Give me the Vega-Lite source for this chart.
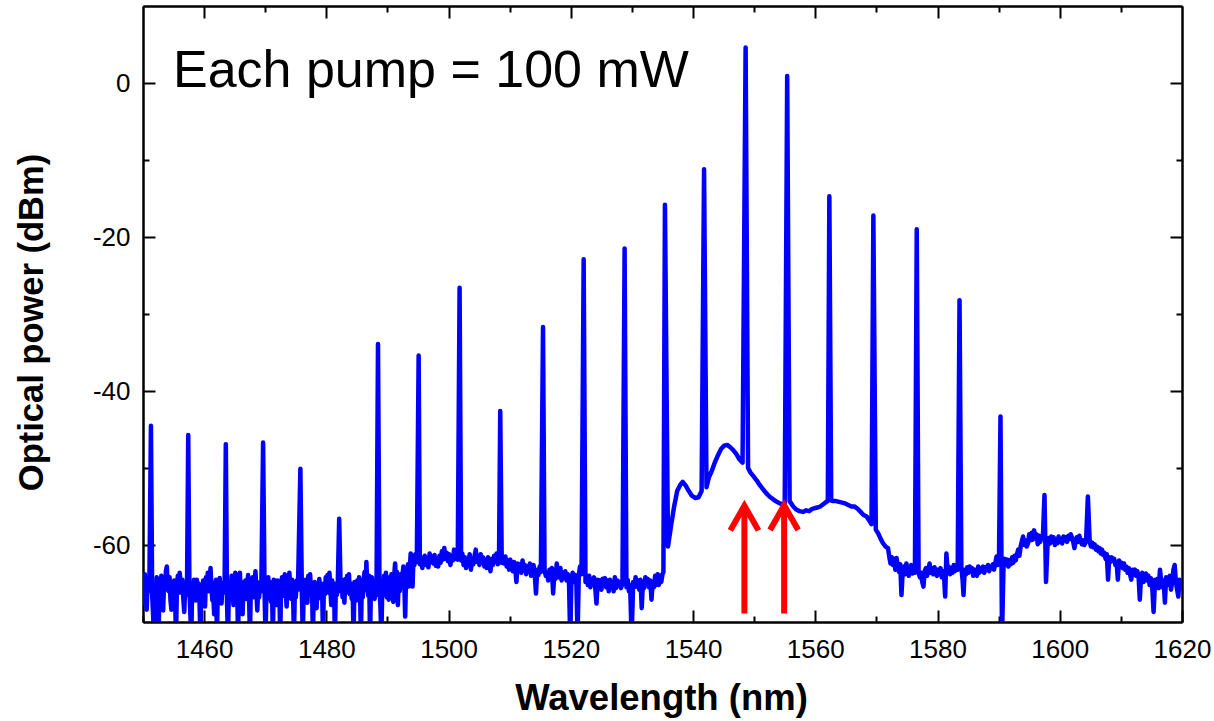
{
  "$schema": "https://vega.github.io/schema/vega-lite/v6.json",
  "autosize": "none",
  "width": 1039,
  "height": 616,
  "padding": {"left": 143, "top": 6, "right": 32, "bottom": 99},
  "background": "white",
  "datasets": {
    "spec": [
      {"wl":1450.0,"p":-65.4},{"wl":1450.15,"p":-67.5},{"wl":1450.3,"p":-63.8},{"wl":1450.45,"p":-66.0},{"wl":1450.6,"p":-68.4},{"wl":1450.75,"p":-64.8},{"wl":1450.9,"p":-66.0},{"wl":1451.05,"p":-64.5},{"wl":1451.3,"p":-44.5},{"wl":1451.5,"p":-66.5},{"wl":1451.65,"p":-69.0},{"wl":1451.8,"p":-72},{"wl":1451.95,"p":-65.8},{"wl":1452.1,"p":-67.8},{"wl":1452.25,"p":-64.2},{"wl":1452.4,"p":-67.0},{"wl":1452.55,"p":-72},{"wl":1452.7,"p":-65.0},{"wl":1452.85,"p":-66.3},{"wl":1453.0,"p":-64.0},{"wl":1453.15,"p":-66.8},{"wl":1453.3,"p":-68.5},{"wl":1453.45,"p":-64.5},{"wl":1453.6,"p":-65.8},{"wl":1453.75,"p":-63.4},{"wl":1453.9,"p":-62.8},{"wl":1454.05,"p":-65.5},{"wl":1454.2,"p":-66.0},{"wl":1454.35,"p":-64.2},{"wl":1454.5,"p":-67.2},{"wl":1454.65,"p":-68.4},{"wl":1454.8,"p":-65.0},{"wl":1454.95,"p":-66.5},{"wl":1455.1,"p":-64.6},{"wl":1455.25,"p":-66.8},{"wl":1455.4,"p":-72},{"wl":1455.55,"p":-65.5},{"wl":1455.7,"p":-64.0},{"wl":1455.85,"p":-66.2},{"wl":1456.0,"p":-63.6},{"wl":1456.15,"p":-65.0},{"wl":1456.3,"p":-66.2},{"wl":1456.45,"p":-64.5},{"wl":1456.6,"p":-67.0},{"wl":1456.75,"p":-68.7},{"wl":1456.9,"p":-65.3},{"wl":1457.05,"p":-66.5},{"wl":1457.2,"p":-65.5},{"wl":1457.4,"p":-45.7},{"wl":1457.6,"p":-66.0},{"wl":1457.75,"p":-69.0},{"wl":1457.9,"p":-72},{"wl":1458.05,"p":-65.5},{"wl":1458.2,"p":-66.8},{"wl":1458.35,"p":-64.5},{"wl":1458.5,"p":-65.8},{"wl":1458.65,"p":-67.2},{"wl":1458.8,"p":-64.5},{"wl":1458.95,"p":-66.3},{"wl":1459.1,"p":-65.0},{"wl":1459.25,"p":-67.5},{"wl":1459.4,"p":-72},{"wl":1459.55,"p":-65.2},{"wl":1459.7,"p":-66.8},{"wl":1459.85,"p":-64.6},{"wl":1460.0,"p":-66.3},{"wl":1460.15,"p":-68.0},{"wl":1460.3,"p":-64.2},{"wl":1460.45,"p":-65.5},{"wl":1460.6,"p":-63.6},{"wl":1460.75,"p":-66.0},{"wl":1460.9,"p":-64.8},{"wl":1461.05,"p":-63.0},{"wl":1461.2,"p":-65.5},{"wl":1461.35,"p":-67.2},{"wl":1461.5,"p":-66.5},{"wl":1461.65,"p":-69.0},{"wl":1461.8,"p":-65.2},{"wl":1461.95,"p":-64.5},{"wl":1462.1,"p":-72},{"wl":1462.25,"p":-65.0},{"wl":1462.4,"p":-66.4},{"wl":1462.55,"p":-64.3},{"wl":1462.7,"p":-66.0},{"wl":1462.85,"p":-67.6},{"wl":1463.0,"p":-65.0},{"wl":1463.15,"p":-66.2},{"wl":1463.35,"p":-65.5},{"wl":1463.55,"p":-46.9},{"wl":1463.75,"p":-67.5},{"wl":1463.9,"p":-72},{"wl":1464.05,"p":-66.0},{"wl":1464.2,"p":-64.8},{"wl":1464.35,"p":-66.5},{"wl":1464.5,"p":-64.0},{"wl":1464.65,"p":-65.2},{"wl":1464.8,"p":-67.8},{"wl":1464.95,"p":-64.5},{"wl":1465.1,"p":-63.6},{"wl":1465.25,"p":-66.0},{"wl":1465.4,"p":-65.2},{"wl":1465.55,"p":-72},{"wl":1465.7,"p":-65.5},{"wl":1465.85,"p":-63.6},{"wl":1466.0,"p":-66.2},{"wl":1466.15,"p":-64.8},{"wl":1466.3,"p":-69.0},{"wl":1466.45,"p":-65.2},{"wl":1466.6,"p":-66.4},{"wl":1466.75,"p":-64.6},{"wl":1466.9,"p":-67.0},{"wl":1467.05,"p":-65.3},{"wl":1467.2,"p":-63.9},{"wl":1467.35,"p":-66.5},{"wl":1467.5,"p":-72},{"wl":1467.65,"p":-65.0},{"wl":1467.8,"p":-66.2},{"wl":1467.95,"p":-64.2},{"wl":1468.1,"p":-66.8},{"wl":1468.25,"p":-65.0},{"wl":1468.4,"p":-63.4},{"wl":1468.55,"p":-66.0},{"wl":1468.7,"p":-68.5},{"wl":1468.85,"p":-65.5},{"wl":1469.0,"p":-66.8},{"wl":1469.15,"p":-64.8},{"wl":1469.35,"p":-66.0},{"wl":1469.65,"p":-46.7},{"wl":1469.9,"p":-66.5},{"wl":1470.05,"p":-72},{"wl":1470.2,"p":-65.6},{"wl":1470.35,"p":-67.0},{"wl":1470.5,"p":-64.2},{"wl":1470.65,"p":-66.0},{"wl":1470.8,"p":-64.8},{"wl":1470.95,"p":-67.4},{"wl":1471.1,"p":-65.2},{"wl":1471.25,"p":-72},{"wl":1471.4,"p":-64.5},{"wl":1471.55,"p":-66.5},{"wl":1471.7,"p":-65.0},{"wl":1471.85,"p":-67.8},{"wl":1472.0,"p":-64.6},{"wl":1472.15,"p":-66.2},{"wl":1472.3,"p":-65.4},{"wl":1472.45,"p":-72},{"wl":1472.6,"p":-65.0},{"wl":1472.75,"p":-64.2},{"wl":1472.9,"p":-66.6},{"wl":1473.05,"p":-65.0},{"wl":1473.2,"p":-63.8},{"wl":1473.35,"p":-66.0},{"wl":1473.5,"p":-68.0},{"wl":1473.65,"p":-64.8},{"wl":1473.8,"p":-66.2},{"wl":1473.95,"p":-63.6},{"wl":1474.1,"p":-65.5},{"wl":1474.25,"p":-67.0},{"wl":1474.4,"p":-64.5},{"wl":1474.55,"p":-66.2},{"wl":1474.7,"p":-72},{"wl":1474.85,"p":-65.5},{"wl":1475.0,"p":-66.8},{"wl":1475.15,"p":-64.6},{"wl":1475.35,"p":-65.8},{"wl":1475.75,"p":-50.1},{"wl":1476.0,"p":-66.5},{"wl":1476.15,"p":-72},{"wl":1476.3,"p":-65.2},{"wl":1476.45,"p":-66.6},{"wl":1476.6,"p":-64.5},{"wl":1476.75,"p":-66.0},{"wl":1476.9,"p":-67.5},{"wl":1477.05,"p":-64.0},{"wl":1477.2,"p":-65.6},{"wl":1477.35,"p":-63.8},{"wl":1477.5,"p":-66.5},{"wl":1477.65,"p":-65.0},{"wl":1477.8,"p":-72},{"wl":1477.95,"p":-65.5},{"wl":1478.1,"p":-64.8},{"wl":1478.25,"p":-66.8},{"wl":1478.4,"p":-68.2},{"wl":1478.55,"p":-65.0},{"wl":1478.7,"p":-66.2},{"wl":1478.85,"p":-64.4},{"wl":1479.0,"p":-65.8},{"wl":1479.15,"p":-67.0},{"wl":1479.3,"p":-65.2},{"wl":1479.45,"p":-72},{"wl":1479.6,"p":-65.0},{"wl":1479.75,"p":-66.4},{"wl":1479.9,"p":-64.2},{"wl":1480.05,"p":-65.6},{"wl":1480.2,"p":-63.9},{"wl":1480.35,"p":-66.2},{"wl":1480.5,"p":-63.6},{"wl":1480.65,"p":-65.5},{"wl":1480.8,"p":-67.8},{"wl":1480.95,"p":-64.6},{"wl":1481.1,"p":-66.8},{"wl":1481.25,"p":-65.0},{"wl":1481.4,"p":-72},{"wl":1481.55,"p":-65.4},{"wl":1481.7,"p":-66.5},{"wl":1481.85,"p":-65.8},{"wl":1482.1,"p":-56.6},{"wl":1482.35,"p":-66.0},{"wl":1482.5,"p":-64.5},{"wl":1482.65,"p":-66.8},{"wl":1482.8,"p":-65.2},{"wl":1482.95,"p":-67.5},{"wl":1483.1,"p":-64.4},{"wl":1483.25,"p":-66.2},{"wl":1483.4,"p":-64.0},{"wl":1483.55,"p":-65.8},{"wl":1483.7,"p":-63.8},{"wl":1483.85,"p":-66.4},{"wl":1484.0,"p":-65.0},{"wl":1484.15,"p":-67.0},{"wl":1484.3,"p":-65.4},{"wl":1484.45,"p":-72},{"wl":1484.6,"p":-64.8},{"wl":1484.75,"p":-66.0},{"wl":1484.9,"p":-67.2},{"wl":1485.05,"p":-64.6},{"wl":1485.2,"p":-66.4},{"wl":1485.35,"p":-64.2},{"wl":1485.5,"p":-65.6},{"wl":1485.65,"p":-72},{"wl":1485.8,"p":-65.0},{"wl":1485.95,"p":-66.8},{"wl":1486.1,"p":-64.5},{"wl":1486.25,"p":-63.5},{"wl":1486.4,"p":-65.8},{"wl":1486.55,"p":-62.2},{"wl":1486.7,"p":-65.5},{"wl":1486.85,"p":-66.6},{"wl":1487.0,"p":-64.0},{"wl":1487.15,"p":-72},{"wl":1487.3,"p":-65.4},{"wl":1487.45,"p":-64.2},{"wl":1487.6,"p":-66.5},{"wl":1487.75,"p":-65.0},{"wl":1487.9,"p":-67.0},{"wl":1488.05,"p":-65.2},{"wl":1488.2,"p":-66.5},{"wl":1488.45,"p":-33.9},{"wl":1488.7,"p":-66.0},{"wl":1488.85,"p":-68.0},{"wl":1489.0,"p":-72},{"wl":1489.15,"p":-65.5},{"wl":1489.3,"p":-66.4},{"wl":1489.45,"p":-64.0},{"wl":1489.6,"p":-65.6},{"wl":1489.75,"p":-63.6},{"wl":1489.9,"p":-66.8},{"wl":1490.05,"p":-65.0},{"wl":1490.2,"p":-67.1},{"wl":1490.35,"p":-64.2},{"wl":1490.5,"p":-66.0},{"wl":1490.65,"p":-63.8},{"wl":1490.8,"p":-65.5},{"wl":1490.95,"p":-67.4},{"wl":1491.1,"p":-64.0},{"wl":1491.25,"p":-62.4},{"wl":1491.4,"p":-65.2},{"wl":1491.55,"p":-63.5},{"wl":1491.7,"p":-67.8},{"wl":1491.85,"p":-64.5},{"wl":1492.0,"p":-66.0},{"wl":1492.15,"p":-63.8},{"wl":1492.3,"p":-65.5},{"wl":1492.45,"p":-64.0},{"wl":1492.6,"p":-62.8},{"wl":1492.75,"p":-65.0},{"wl":1492.9,"p":-69.3},{"wl":1493.05,"p":-63.5},{"wl":1493.2,"p":-64.8},{"wl":1493.35,"p":-62.5},{"wl":1493.5,"p":-65.4},{"wl":1493.65,"p":-63.0},{"wl":1493.8,"p":-61.1},{"wl":1493.95,"p":-62.8},{"wl":1494.1,"p":-65.4},{"wl":1494.25,"p":-61.8},{"wl":1494.4,"p":-62.6},{"wl":1494.55,"p":-61.2},{"wl":1494.8,"p":-62.2},{"wl":1495.1,"p":-35.4},{"wl":1495.3,"p":-62.5},{"wl":1495.5,"p":-61.6},{"wl":1495.7,"p":-63.0},{"wl":1495.9,"p":-62.0},{"wl":1496.1,"p":-61.4},{"wl":1496.3,"p":-62.6},{"wl":1496.5,"p":-61.8},{"wl":1496.7,"p":-62.9},{"wl":1496.9,"p":-61.1},{"wl":1497.1,"p":-62.2},{"wl":1497.3,"p":-61.5},{"wl":1497.5,"p":-62.4},{"wl":1497.7,"p":-61.3},{"wl":1497.9,"p":-62.7},{"wl":1498.1,"p":-61.9},{"wl":1498.3,"p":-62.8},{"wl":1498.5,"p":-61.4},{"wl":1498.7,"p":-62.3},{"wl":1498.9,"p":-60.8},{"wl":1499.1,"p":-61.9},{"wl":1499.3,"p":-60.4},{"wl":1499.5,"p":-61.8},{"wl":1499.7,"p":-61.0},{"wl":1499.9,"p":-62.1},{"wl":1500.1,"p":-61.2},{"wl":1500.3,"p":-62.6},{"wl":1500.5,"p":-61.5},{"wl":1500.7,"p":-62.0},{"wl":1500.9,"p":-60.6},{"wl":1501.1,"p":-61.8},{"wl":1501.3,"p":-61.2},{"wl":1501.5,"p":-61.9},{"wl":1501.8,"p":-26.6},{"wl":1502.05,"p":-62.0},{"wl":1502.25,"p":-61.1},{"wl":1502.45,"p":-62.6},{"wl":1502.65,"p":-61.6},{"wl":1502.85,"p":-63.0},{"wl":1503.05,"p":-61.8},{"wl":1503.25,"p":-62.4},{"wl":1503.45,"p":-61.2},{"wl":1503.65,"p":-63.2},{"wl":1503.85,"p":-61.9},{"wl":1504.05,"p":-62.5},{"wl":1504.25,"p":-61.4},{"wl":1504.45,"p":-60.6},{"wl":1504.65,"p":-62.2},{"wl":1504.85,"p":-61.5},{"wl":1505.05,"p":-62.6},{"wl":1505.25,"p":-61.2},{"wl":1505.45,"p":-62.0},{"wl":1505.65,"p":-61.6},{"wl":1505.85,"p":-62.8},{"wl":1506.05,"p":-61.9},{"wl":1506.25,"p":-63.0},{"wl":1506.45,"p":-61.6},{"wl":1506.65,"p":-62.4},{"wl":1506.85,"p":-63.4},{"wl":1507.05,"p":-61.8},{"wl":1507.25,"p":-62.6},{"wl":1507.45,"p":-61.4},{"wl":1507.65,"p":-62.2},{"wl":1507.85,"p":-61.1},{"wl":1508.05,"p":-62.5},{"wl":1508.25,"p":-62.0},{"wl":1508.45,"p":-42.6},{"wl":1508.7,"p":-62.3},{"wl":1508.9,"p":-61.6},{"wl":1509.1,"p":-62.4},{"wl":1509.3,"p":-61.5},{"wl":1509.5,"p":-62.8},{"wl":1509.7,"p":-62.0},{"wl":1509.9,"p":-63.2},{"wl":1510.1,"p":-61.9},{"wl":1510.3,"p":-62.6},{"wl":1510.5,"p":-63.4},{"wl":1510.7,"p":-62.2},{"wl":1510.9,"p":-63.0},{"wl":1511.1,"p":-64.8},{"wl":1511.3,"p":-62.4},{"wl":1511.5,"p":-63.0},{"wl":1511.7,"p":-62.5},{"wl":1511.9,"p":-63.6},{"wl":1512.1,"p":-62.0},{"wl":1512.3,"p":-63.2},{"wl":1512.5,"p":-62.6},{"wl":1512.7,"p":-63.8},{"wl":1512.9,"p":-62.8},{"wl":1513.1,"p":-63.4},{"wl":1513.3,"p":-62.4},{"wl":1513.5,"p":-64.0},{"wl":1513.7,"p":-63.0},{"wl":1513.9,"p":-62.6},{"wl":1514.1,"p":-63.8},{"wl":1514.3,"p":-66.3},{"wl":1514.5,"p":-63.2},{"wl":1514.7,"p":-63.9},{"wl":1514.9,"p":-62.8},{"wl":1515.1,"p":-63.5},{"wl":1515.45,"p":-31.7},{"wl":1515.7,"p":-63.2},{"wl":1515.9,"p":-64.0},{"wl":1516.1,"p":-63.6},{"wl":1516.3,"p":-64.6},{"wl":1516.5,"p":-63.2},{"wl":1516.7,"p":-64.2},{"wl":1516.9,"p":-63.0},{"wl":1517.1,"p":-66.3},{"wl":1517.3,"p":-63.8},{"wl":1517.5,"p":-64.4},{"wl":1517.7,"p":-62.4},{"wl":1517.9,"p":-63.6},{"wl":1518.1,"p":-64.2},{"wl":1518.3,"p":-63.0},{"wl":1518.5,"p":-64.6},{"wl":1518.7,"p":-63.6},{"wl":1518.9,"p":-64.2},{"wl":1519.1,"p":-63.4},{"wl":1519.3,"p":-64.6},{"wl":1519.5,"p":-63.8},{"wl":1519.7,"p":-64.8},{"wl":1519.9,"p":-72},{"wl":1520.1,"p":-64.5},{"wl":1520.3,"p":-63.6},{"wl":1520.5,"p":-64.8},{"wl":1520.7,"p":-63.9},{"wl":1520.9,"p":-64.6},{"wl":1521.1,"p":-72},{"wl":1521.3,"p":-64.0},{"wl":1521.5,"p":-62.8},{"wl":1521.75,"p":-63.8},{"wl":1522.1,"p":-22.9},{"wl":1522.4,"p":-64.8},{"wl":1522.6,"p":-64.2},{"wl":1522.8,"p":-65.2},{"wl":1523.0,"p":-64.0},{"wl":1523.2,"p":-65.5},{"wl":1523.4,"p":-64.4},{"wl":1523.6,"p":-65.0},{"wl":1523.8,"p":-64.2},{"wl":1524.0,"p":-65.6},{"wl":1524.2,"p":-67.6},{"wl":1524.4,"p":-64.5},{"wl":1524.6,"p":-65.2},{"wl":1524.8,"p":-64.6},{"wl":1525.0,"p":-65.8},{"wl":1525.2,"p":-64.4},{"wl":1525.4,"p":-65.2},{"wl":1525.6,"p":-64.3},{"wl":1525.8,"p":-65.5},{"wl":1526.0,"p":-64.6},{"wl":1526.2,"p":-66.0},{"wl":1526.4,"p":-64.5},{"wl":1526.6,"p":-65.4},{"wl":1526.8,"p":-64.8},{"wl":1527.0,"p":-66.0},{"wl":1527.2,"p":-64.2},{"wl":1527.4,"p":-65.6},{"wl":1527.6,"p":-64.6},{"wl":1527.8,"p":-65.2},{"wl":1528.0,"p":-64.8},{"wl":1528.2,"p":-65.6},{"wl":1528.45,"p":-65.0},{"wl":1528.8,"p":-21.5},{"wl":1529.1,"p":-65.5},{"wl":1529.3,"p":-64.5},{"wl":1529.5,"p":-66.0},{"wl":1529.7,"p":-65.2},{"wl":1529.95,"p":-72},{"wl":1530.2,"p":-64.8},{"wl":1530.4,"p":-65.5},{"wl":1530.6,"p":-64.2},{"wl":1530.8,"p":-65.4},{"wl":1531.0,"p":-64.6},{"wl":1531.2,"p":-65.8},{"wl":1531.4,"p":-64.5},{"wl":1531.6,"p":-68.2},{"wl":1531.8,"p":-64.8},{"wl":1532.0,"p":-65.6},{"wl":1532.2,"p":-64.2},{"wl":1532.4,"p":-65.0},{"wl":1532.6,"p":-64.4},{"wl":1532.8,"p":-65.5},{"wl":1533.0,"p":-64.6},{"wl":1533.2,"p":-67.1},{"wl":1533.4,"p":-64.8},{"wl":1533.6,"p":-65.5},{"wl":1533.8,"p":-64.0},{"wl":1534.0,"p":-65.2},{"wl":1534.2,"p":-63.8},{"wl":1534.4,"p":-65.2},{"wl":1534.6,"p":-64.0},{"wl":1534.8,"p":-64.8},{"wl":1535.0,"p":-63.8},{"wl":1535.15,"p":-63.5},{"wl":1535.4,"p":-15.8},{"wl":1535.9,"p":-60.2},{"wl":1536.4,"p":-57.5},{"wl":1536.9,"p":-55.0},{"wl":1537.4,"p":-53.0},{"wl":1537.9,"p":-52.2},{"wl":1538.3,"p":-51.8},{"wl":1538.8,"p":-52.3},{"wl":1539.3,"p":-53.0},{"wl":1539.8,"p":-53.6},{"wl":1540.4,"p":-53.9},{"wl":1540.9,"p":-53.8},{"wl":1541.4,"p":-53.0},{"wl":1541.8,"p":-11.2},{"wl":1542.2,"p":-52.5},{"wl":1542.6,"p":-51.2},{"wl":1543.1,"p":-50.3},{"wl":1543.6,"p":-49.2},{"wl":1544.1,"p":-48.3},{"wl":1544.6,"p":-47.5},{"wl":1545.1,"p":-47.1},{"wl":1545.6,"p":-47.0},{"wl":1546.1,"p":-47.3},{"wl":1546.6,"p":-47.7},{"wl":1547.1,"p":-48.2},{"wl":1547.6,"p":-48.9},{"wl":1548.1,"p":-49.3},{"wl":1548.6,"p":4.6},{"wl":1549.0,"p":-50.0},{"wl":1549.4,"p":-50.6},{"wl":1549.9,"p":-51.1},{"wl":1550.4,"p":-51.6},{"wl":1550.9,"p":-52.2},{"wl":1551.4,"p":-52.7},{"wl":1552.0,"p":-53.3},{"wl":1552.5,"p":-53.7},{"wl":1553.0,"p":-54.0},{"wl":1553.5,"p":-54.3},{"wl":1554.0,"p":-54.5},{"wl":1554.5,"p":-54.7},{"wl":1555.0,"p":-54.6},{"wl":1555.4,"p":0.9},{"wl":1555.8,"p":-54.3},{"wl":1556.4,"p":-55.0},{"wl":1556.9,"p":-55.4},{"wl":1557.4,"p":-55.6},{"wl":1558.0,"p":-55.7},{"wl":1558.5,"p":-55.5},{"wl":1559.0,"p":-55.6},{"wl":1559.5,"p":-55.3},{"wl":1560.0,"p":-55.2},{"wl":1560.5,"p":-55.1},{"wl":1560.8,"p":-55.0},{"wl":1561.3,"p":-54.7},{"wl":1561.8,"p":-54.4},{"wl":1562.05,"p":-54.3},{"wl":1562.3,"p":-14.7},{"wl":1562.6,"p":-54.2},{"wl":1562.9,"p":-54.3},{"wl":1563.4,"p":-54.3},{"wl":1563.9,"p":-54.4},{"wl":1564.4,"p":-54.5},{"wl":1564.9,"p":-54.6},{"wl":1565.4,"p":-54.8},{"wl":1565.9,"p":-55.0},{"wl":1566.4,"p":-55.0},{"wl":1566.8,"p":-55.2},{"wl":1567.3,"p":-55.6},{"wl":1567.9,"p":-56.1},{"wl":1568.4,"p":-56.3},{"wl":1568.8,"p":-56.8},{"wl":1569.2,"p":-57.3},{"wl":1569.5,"p":-17.2},{"wl":1569.9,"p":-58.0},{"wl":1570.3,"p":-58.5},{"wl":1570.7,"p":-59.2},{"wl":1571.1,"p":-59.8},{"wl":1571.5,"p":-60.2},{"wl":1571.9,"p":-60.4},{"wl":1572.1,"p":-61.5},{"wl":1572.3,"p":-62.4},{"wl":1572.5,"p":-61.6},{"wl":1572.7,"p":-62.6},{"wl":1572.9,"p":-61.8},{"wl":1573.1,"p":-63.2},{"wl":1573.3,"p":-61.7},{"wl":1573.5,"p":-62.8},{"wl":1573.7,"p":-63.5},{"wl":1573.9,"p":-62.5},{"wl":1574.1,"p":-66.5},{"wl":1574.3,"p":-63.4},{"wl":1574.5,"p":-62.8},{"wl":1574.7,"p":-63.8},{"wl":1574.9,"p":-62.4},{"wl":1575.1,"p":-63.2},{"wl":1575.3,"p":-64.0},{"wl":1575.5,"p":-63.0},{"wl":1575.7,"p":-62.6},{"wl":1575.9,"p":-63.7},{"wl":1576.1,"p":-63.0},{"wl":1576.3,"p":-63.6},{"wl":1576.6,"p":-19.0},{"wl":1576.9,"p":-63.5},{"wl":1577.1,"p":-64.2},{"wl":1577.3,"p":-63.6},{"wl":1577.5,"p":-64.8},{"wl":1577.7,"p":-65.4},{"wl":1577.9,"p":-63.4},{"wl":1578.1,"p":-63.0},{"wl":1578.3,"p":-64.0},{"wl":1578.5,"p":-63.2},{"wl":1578.7,"p":-62.4},{"wl":1578.9,"p":-63.6},{"wl":1579.1,"p":-63.0},{"wl":1579.3,"p":-63.8},{"wl":1579.5,"p":-62.9},{"wl":1579.7,"p":-63.6},{"wl":1579.9,"p":-64.0},{"wl":1580.1,"p":-63.2},{"wl":1580.3,"p":-63.8},{"wl":1580.5,"p":-63.0},{"wl":1580.7,"p":-64.2},{"wl":1580.9,"p":-63.4},{"wl":1581.1,"p":-64.5},{"wl":1581.25,"p":-66.7},{"wl":1581.45,"p":-61.1},{"wl":1581.65,"p":-63.4},{"wl":1581.85,"p":-62.8},{"wl":1582.05,"p":-63.8},{"wl":1582.25,"p":-63.0},{"wl":1582.45,"p":-63.6},{"wl":1582.65,"p":-62.6},{"wl":1582.85,"p":-63.4},{"wl":1583.05,"p":-62.8},{"wl":1583.3,"p":-63.2},{"wl":1583.6,"p":-28.2},{"wl":1583.9,"p":-63.0},{"wl":1584.1,"p":-64.5},{"wl":1584.25,"p":-66.5},{"wl":1584.45,"p":-63.2},{"wl":1584.65,"p":-63.8},{"wl":1584.85,"p":-62.9},{"wl":1585.05,"p":-63.6},{"wl":1585.25,"p":-62.8},{"wl":1585.45,"p":-63.4},{"wl":1585.65,"p":-63.0},{"wl":1585.85,"p":-64.0},{"wl":1586.05,"p":-63.2},{"wl":1586.25,"p":-63.7},{"wl":1586.45,"p":-64.0},{"wl":1586.65,"p":-62.8},{"wl":1586.85,"p":-63.6},{"wl":1587.05,"p":-63.0},{"wl":1587.25,"p":-63.4},{"wl":1587.45,"p":-62.8},{"wl":1587.65,"p":-63.6},{"wl":1587.85,"p":-62.9},{"wl":1588.05,"p":-63.2},{"wl":1588.25,"p":-62.6},{"wl":1588.45,"p":-63.4},{"wl":1588.65,"p":-62.8},{"wl":1588.85,"p":-63.0},{"wl":1589.05,"p":-62.5},{"wl":1589.25,"p":-63.2},{"wl":1589.45,"p":-62.4},{"wl":1589.65,"p":-61.5},{"wl":1589.85,"p":-62.6},{"wl":1590.05,"p":-62.2},{"wl":1590.3,"p":-43.3},{"wl":1590.55,"p":-72},{"wl":1590.8,"p":-62.5},{"wl":1591.0,"p":-61.8},{"wl":1591.2,"p":-62.6},{"wl":1591.4,"p":-61.9},{"wl":1591.6,"p":-62.8},{"wl":1591.8,"p":-62.0},{"wl":1592.0,"p":-62.5},{"wl":1592.2,"p":-61.6},{"wl":1592.4,"p":-62.3},{"wl":1592.6,"p":-61.4},{"wl":1592.8,"p":-62.0},{"wl":1593.0,"p":-61.2},{"wl":1593.2,"p":-60.6},{"wl":1593.4,"p":-61.4},{"wl":1593.6,"p":-60.2},{"wl":1593.8,"p":-59.5},{"wl":1594.0,"p":-58.9},{"wl":1594.2,"p":-60.0},{"wl":1594.4,"p":-59.4},{"wl":1594.6,"p":-60.2},{"wl":1594.8,"p":-59.8},{"wl":1595.0,"p":-58.6},{"wl":1595.2,"p":-59.4},{"wl":1595.4,"p":-58.4},{"wl":1595.6,"p":-59.3},{"wl":1595.8,"p":-58.1},{"wl":1596.0,"p":-59.0},{"wl":1596.2,"p":-58.6},{"wl":1596.4,"p":-59.9},{"wl":1596.6,"p":-58.8},{"wl":1596.8,"p":-59.6},{"wl":1597.0,"p":-59.1},{"wl":1597.25,"p":-58.8},{"wl":1597.5,"p":-53.5},{"wl":1597.75,"p":-64.8},{"wl":1598.0,"p":-60.0},{"wl":1598.2,"p":-59.1},{"wl":1598.4,"p":-59.8},{"wl":1598.6,"p":-58.9},{"wl":1598.8,"p":-59.6},{"wl":1599.0,"p":-59.0},{"wl":1599.2,"p":-60.0},{"wl":1599.4,"p":-59.3},{"wl":1599.6,"p":-59.8},{"wl":1599.8,"p":-58.9},{"wl":1600.0,"p":-59.6},{"wl":1600.2,"p":-59.2},{"wl":1600.4,"p":-59.8},{"wl":1600.6,"p":-58.9},{"wl":1600.8,"p":-59.4},{"wl":1601.0,"p":-59.0},{"wl":1601.2,"p":-59.6},{"wl":1601.4,"p":-58.8},{"wl":1601.6,"p":-59.2},{"wl":1601.8,"p":-58.6},{"wl":1602.0,"p":-59.0},{"wl":1602.2,"p":-59.6},{"wl":1602.4,"p":-60.4},{"wl":1602.6,"p":-59.4},{"wl":1602.8,"p":-59.0},{"wl":1603.0,"p":-59.6},{"wl":1603.2,"p":-58.8},{"wl":1603.4,"p":-59.3},{"wl":1603.6,"p":-59.9},{"wl":1603.8,"p":-59.4},{"wl":1604.0,"p":-60.0},{"wl":1604.3,"p":-59.6},{"wl":1604.6,"p":-53.7},{"wl":1604.9,"p":-59.6},{"wl":1605.1,"p":-60.2},{"wl":1605.3,"p":-59.7},{"wl":1605.5,"p":-60.3},{"wl":1605.7,"p":-59.9},{"wl":1605.9,"p":-60.6},{"wl":1606.1,"p":-60.2},{"wl":1606.3,"p":-60.8},{"wl":1606.5,"p":-60.4},{"wl":1606.7,"p":-61.1},{"wl":1606.9,"p":-60.6},{"wl":1607.1,"p":-61.3},{"wl":1607.3,"p":-61.0},{"wl":1607.5,"p":-61.8},{"wl":1607.7,"p":-61.2},{"wl":1607.9,"p":-64.5},{"wl":1608.1,"p":-61.6},{"wl":1608.3,"p":-62.2},{"wl":1608.5,"p":-61.6},{"wl":1608.7,"p":-62.0},{"wl":1608.9,"p":-61.8},{"wl":1609.1,"p":-62.6},{"wl":1609.3,"p":-62.2},{"wl":1609.5,"p":-64.5},{"wl":1609.7,"p":-62.0},{"wl":1609.9,"p":-62.6},{"wl":1610.1,"p":-62.3},{"wl":1610.3,"p":-63.0},{"wl":1610.5,"p":-62.4},{"wl":1610.7,"p":-63.2},{"wl":1610.9,"p":-62.8},{"wl":1611.1,"p":-63.6},{"wl":1611.3,"p":-63.0},{"wl":1611.5,"p":-63.8},{"wl":1611.7,"p":-64.5},{"wl":1611.9,"p":-63.2},{"wl":1612.1,"p":-63.8},{"wl":1612.3,"p":-63.2},{"wl":1612.5,"p":-64.0},{"wl":1612.7,"p":-63.4},{"wl":1612.9,"p":-64.2},{"wl":1613.1,"p":-67.1},{"wl":1613.3,"p":-64.0},{"wl":1613.5,"p":-63.6},{"wl":1613.7,"p":-64.8},{"wl":1613.9,"p":-64.0},{"wl":1614.1,"p":-63.7},{"wl":1614.3,"p":-64.6},{"wl":1614.5,"p":-64.0},{"wl":1614.7,"p":-65.2},{"wl":1614.9,"p":-64.3},{"wl":1615.1,"p":-65.0},{"wl":1615.35,"p":-68.7},{"wl":1615.6,"p":-64.5},{"wl":1615.8,"p":-65.2},{"wl":1616.0,"p":-64.4},{"wl":1616.2,"p":-65.6},{"wl":1616.4,"p":-63.2},{"wl":1616.6,"p":-64.8},{"wl":1616.8,"p":-65.5},{"wl":1617.0,"p":-64.6},{"wl":1617.2,"p":-67.5},{"wl":1617.4,"p":-64.2},{"wl":1617.6,"p":-65.2},{"wl":1617.8,"p":-64.5},{"wl":1618.0,"p":-64.0},{"wl":1618.2,"p":-65.8},{"wl":1618.4,"p":-64.8},{"wl":1618.6,"p":-63.2},{"wl":1618.8,"p":-62.6},{"wl":1619.0,"p":-64.8},{"wl":1619.2,"p":-65.8},{"wl":1619.4,"p":-66.7},{"wl":1619.6,"p":-64.5},{"wl":1619.8,"p":-65.6},{"wl":1620.0,"p":-65.4}
    ],
    "shafts": [
      {"wl": 1548.4, "lo": -68.9, "hi": -55.6},
      {"wl": 1554.9, "lo": -68.9, "hi": -55.5}
    ],
    "heads": [
      {"a": 1, "wl": 1546.1, "p": -58.1},
      {"a": 1, "wl": 1548.4, "p": -54.9},
      {"a": 1, "wl": 1550.7, "p": -58.1},
      {"a": 2, "wl": 1552.6, "p": -58.05},
      {"a": 2, "wl": 1554.9, "p": -54.85},
      {"a": 2, "wl": 1557.2, "p": -58.05}
    ],
    "note": [
      {"wl": 1454.9, "p": -0.5, "label": "Each pump = 100 mW"}
    ]
  },
  "layer": [
    {
      "data": {"name": "spec"},
      "mark": {"type": "line", "color": "#0000ff", "strokeWidth": 4.5, "clip": true, "strokeJoin": "round"},
      "encoding": {
        "x": {"field": "wl", "type": "quantitative",
          "scale": {"domain": [1450, 1620], "nice": false, "zero": false},
          "axis": {"orient": "bottom", "values": [1460,1480,1500,1520,1540,1560,1580,1600,1620], "tickSize": -12, "labelPadding": 26, "labelExpr": "datum.value + ''", "title": "Wavelength (nm)", "titleFontSize": 36.5, "titleX": 518, "titleY": 87, "titleBaseline": "alphabetic", "titleAlign": "center"}},
        "y": {"field": "p", "type": "quantitative",
          "scale": {"domain": [-70, 10], "nice": false, "zero": false},
          "axis": {"orient": "left", "values": [-60,-40,-20,0], "tickSize": -12, "labelPadding": 25, "labelExpr": "datum.value + ''", "title": "Optical power (dBm)", "titleFontSize": 34.5, "titleX": -101, "titleY": 316, "titleBaseline": "alphabetic", "titleAlign": "center", "titleAngle": 270}}
      }
    },
    {
      "data": {"name": "shafts"},
      "mark": {"type": "rule", "color": "#ff0000", "strokeWidth": 6},
      "encoding": {
        "x": {"field": "wl", "type": "quantitative",
          "scale": {"domain": [1450, 1620], "nice": false, "zero": false},
          "axis": {"orient": "bottom", "values": [1450,1470,1490,1510,1530,1550,1570,1590,1610], "tickSize": -6, "labels": false, "title": null}},
        "y": {"field": "lo", "type": "quantitative",
          "scale": {"domain": [-70, 10], "nice": false, "zero": false},
          "axis": {"orient": "left", "values": [-50,-30,-10], "tickSize": -6, "labels": false, "title": null}},
        "y2": {"field": "hi"}
      }
    },
    {
      "data": {"name": "heads"},
      "mark": {"type": "line", "color": "#ff0000", "strokeWidth": 6, "strokeJoin": "miter", "strokeCap": "butt"},
      "encoding": {
        "x": {"field": "wl", "type": "quantitative",
          "scale": {"domain": [1450, 1620], "nice": false, "zero": false},
          "axis": {"orient": "top", "values": [1460,1480,1500,1520,1540,1560,1580,1600], "tickSize": -12, "labels": false, "title": null}},
        "y": {"field": "p", "type": "quantitative",
          "scale": {"domain": [-70, 10], "nice": false, "zero": false},
          "axis": {"orient": "right", "values": [-60,-40,-20,0], "tickSize": -12, "labels": false, "title": null}},
        "detail": {"field": "a", "type": "nominal"}
      }
    },
    {
      "data": {"name": "note"},
      "mark": {"type": "text", "font": "Liberation Sans", "fontSize": 52, "align": "left", "baseline": "alphabetic", "color": "black"},
      "encoding": {
        "x": {"field": "wl", "type": "quantitative",
          "scale": {"domain": [1450, 1620], "nice": false, "zero": false},
          "axis": {"orient": "top", "values": [1470,1490,1510,1530,1550,1570,1590,1610], "tickSize": -6, "labels": false, "title": null}},
        "y": {"field": "p", "type": "quantitative",
          "scale": {"domain": [-70, 10], "nice": false, "zero": false},
          "axis": {"orient": "right", "values": [-50,-30,-10], "tickSize": -6, "labels": false, "title": null}},
        "text": {"field": "label"}
      }
    }
  ],
  "resolve": {"axis": {"x": "independent", "y": "independent"}},
  "config": {
    "view": {"stroke": null},
    "axis": {
      "grid": false,
      "domainColor": "black", "domainWidth": 2,
      "tickColor": "black", "tickWidth": 2,
      "labelFont": "Liberation Sans", "labelFontSize": 26, "labelColor": "black",
      "labelFlush": false, "labelOverlap": false,
      "titleFont": "Liberation Sans", "titleFontWeight": "bold", "titleColor": "black"
    }
  }
}
